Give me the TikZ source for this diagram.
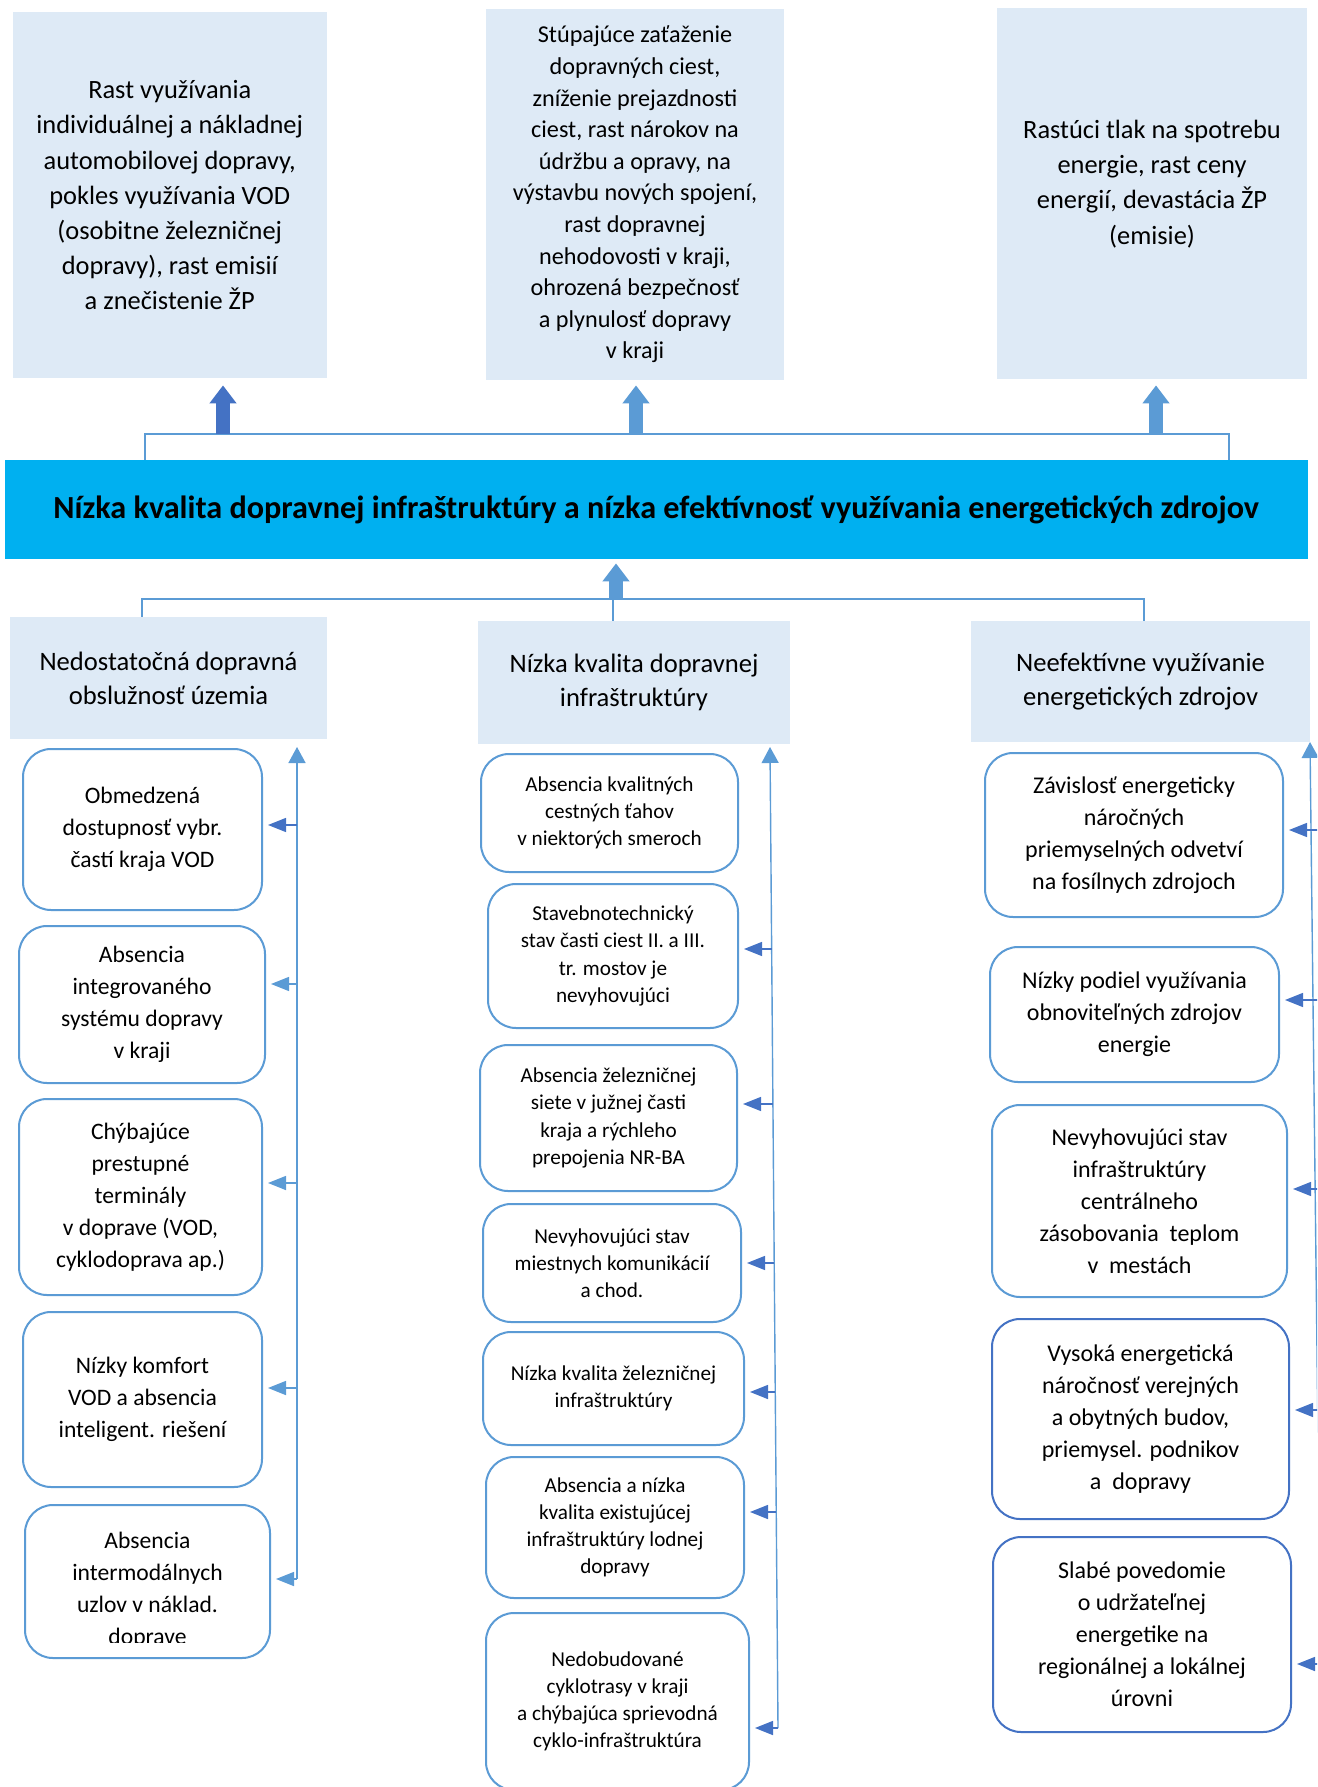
\documentclass[tikz,border=0pt]{standalone}
\usepackage{fontspec}
\setmainfont{Carlito}
\usetikzlibrary{arrows.meta}
\definecolor{lfill}{HTML}{DEEAF6}
\definecolor{mainc}{HTML}{00B0F0}
\definecolor{lb}{HTML}{5B9BD5}
\definecolor{db}{HTML}{4472C4}
\newcommand\mybox[7]{\node[#1, minimum width={(#4-#2)*0.5pt}, minimum height={(#5-#3)*0.5pt}] (#6) at ({(#2+#4)/2},{(#3+#5)/2}) {#7};}
\tikzset{
  topbox/.style={fill=lfill, inner sep=0pt, align=center, font=\fontsize{13.2}{17.6}\selectfont},
  topboxb/.style={topbox, font=\fontsize{12.1}{15.8}\selectfont},
  catbox/.style={fill=lfill, inner sep=0pt, align=center, font=\fontsize{13.3}{17}\selectfont},
  mainbox/.style={fill=mainc, inner sep=0pt, align=center, font=\bfseries\fontsize{16.1}{19}\selectfont},
  rbase/.style={draw=lb, line width=1pt, rounded corners=14pt, fill=white, inner sep=0pt, align=center},
  lbox/.style={rbase, font=\fontsize{11.8}{16}\selectfont},
  mbox/.style={rbase, font=\fontsize{10.6}{13.6}\selectfont},
  rbox/.style={rbase, font=\fontsize{12}{16}\selectfont},
  rboxd/.style={rbox, draw=db},
  thinl/.style={draw=lb, line width=0.75pt},
  barrow/.style={line width=7pt, -{Triangle[width=13pt,length=9pt]}},
  vline/.style={draw=lb, line width=0.7pt, -{Triangle[width=8.5pt,length=8pt]}},
  stub/.style={line width=0.7pt, -{Triangle[width=7pt,length=9pt]}, shorten >=2.5pt},
}
\begin{document}
\begin{tikzpicture}[x=0.5pt,y=-0.5pt]
\useasboundingbox (0,0) rectangle (1317,1787);
\clip (0,0) rectangle (1317,1787);
\fill[white] (0,0) rectangle (1317,1787);
% top boxes
\mybox{topbox}{12.5}{12.5}{327}{378}{T1}{Rast využívania\\individuálnej a nákladnej\\automobilovej dopravy,\\pokles využívania VOD\\(osobitne železničnej\\dopravy), rast emisií\\a znečistenie ŽP}
\mybox{topboxb}{486}{9}{784}{380}{T2}{Stúpajúce zaťaženie\\dopravných ciest,\\zníženie prejazdnosti\\ciest, rast nárokov na\\údržbu a opravy, na\\výstavbu nových spojení,\\rast dopravnej\\nehodovosti v kraji,\\ohrozená bezpečnosť\\a plynulosť dopravy\\v kraji}
\mybox{topbox}{997}{8}{1307}{379}{T3}{}
\node[font=\fontsize{13.2}{17.6}\selectfont, align=center, inner sep=0pt] (T3t) at (1152,184) {Rastúci tlak na spotrebu\\energie, rast ceny\\energií, devastácia ŽP\\(emisie)};
% main
\mybox{mainbox}{4.5}{460}{1308}{559}{MAIN}{Nízka kvalita dopravnej infraštruktúry a nízka efektívnosť využívania energetických zdrojov}
% bracket above main
\coordinate (hl) at (145,434);
\coordinate (hr) at (1229,434);
\draw[thinl] (MAIN.north -| hl) -- (hl) -- (hr) -- (MAIN.north -| hr);
\coordinate (ta1) at (223,434);
\coordinate (ta2) at (636,434);
\coordinate (ta3) at (1156,434);
\draw[barrow,db,shorten >=3.5pt] (ta1) -- (ta1 |- T1.south);
\draw[barrow,lb,shorten >=2.5pt] (ta2) -- (ta2 |- T2.south);
\draw[barrow,lb,shorten >=3pt] (ta3) -- (ta3 |- T3.south);
% categories
\mybox{catbox}{10}{617}{327}{739}{C1}{Nedostatočná dopravná\\obslužnosť územia}
\mybox{catbox}{478}{621}{790}{744}{C2}{Nízka kvalita dopravnej\\infraštruktúry}
\mybox{catbox}{971}{621}{1310}{742}{C3}{Neefektívne využívanie\\energetických zdrojov}
\coordinate (bl) at (142,599);
\coordinate (bm) at (613,599);
\coordinate (br) at (1144,599);
\draw[thinl] (C1.north -| bl) -- (bl) -- (br) -- (C3.north -| br);
\draw[thinl] (bm) -- (C2.north -| bm);
\coordinate (ba) at (616,599);
\draw[barrow,lb,shorten >=2pt] (ba) -- (ba |- MAIN.south);
% left column
\mybox{lbox}{23}{749}{262}{910}{L1}{Obmedzená\\dostupnosť vybr.\\častí kraja VOD}
\mybox{lbox}{19}{926}{265}{1083}{L2}{Absencia\\integrovaného\\systému dopravy\\v kraji}
\mybox{lbox}{19}{1099}{262}{1295}{L3}{Chýbajúce\\prestupné\\terminály\\v doprave (VOD,\\cyklodoprava ap.)}
\mybox{lbox}{23}{1312}{262}{1487}{L4}{Nízky komfort\\VOD a absencia\\inteligent. riešení}
\mybox{lbox}{25}{1505}{270}{1658}{L5}{}
\begin{scope}
\clip (0,1505) rectangle (1317,1642);
\node[font=\fontsize{11.8}{16}\selectfont, align=center, inner sep=0pt] (L5t) at (147.5,1590) {Absencia\\intermodálnych\\uzlov v náklad.\\doprave};
\end{scope}
\coordinate (ltop) at (297,747);
\coordinate (lbot) at (297,1579);
\draw[vline] (lbot) -- (ltop);
\coordinate (l1) at (297,825);
\coordinate (l2) at (297,984);
\coordinate (l3) at (297,1183);
\coordinate (l4) at (297,1388);
\coordinate (l5) at (297,1579);
\draw[stub,db] (l1) -- (l1 -| L1.east);
\draw[stub,lb] (l2) -- (l2 -| L2.east);
\draw[stub,lb] (l3) -- (l3 -| L3.east);
\draw[stub,lb] (l4) -- (l4 -| L4.east);
\draw[stub,lb] (l5) -- (l5 -| L5.east);
% middle column
\mybox{mbox}{481}{754}{738}{872}{M1}{Absencia kvalitných\\cestných ťahov\\v niektorých smeroch}
\mybox{mbox}{488}{884}{738}{1028}{M2}{Stavebnotechnický\\stav časti ciest II. a III.\\tr. mostov je\\nevyhovujúci}
\mybox{mbox}{480}{1045}{737}{1191}{M3}{Absencia železničnej\\siete v južnej časti\\kraja a rýchleho\\prepojenia NR-BA}
\mybox{mbox}{483}{1204}{741}{1322}{M4}{Nevyhovujúci stav\\miestnych komunikácií\\a chod.}
\mybox{mbox}{483}{1332}{744}{1445}{M5}{Nízka kvalita železničnej\\infraštruktúry}
\mybox{mbox}{486}{1457}{744}{1598}{M6}{Absencia a nízka\\kvalita existujúcej\\infraštruktúry lodnej\\dopravy}
\mybox{mbox}{486}{1613}{749}{1790}{M7}{Nedobudované\\cyklotrasy v kraji\\a chýbajúca sprievodná\\cyklo-infraštruktúra}
\coordinate (mtop) at (770,747);
\coordinate (mbot) at (778,1728);
\draw[vline] (mbot) -- (mtop);
\coordinate (m2) at (771.6,949);
\coordinate (m3) at (772.9,1104);
\coordinate (m4) at (774.2,1263);
\coordinate (m5) at (775.3,1392);
\coordinate (m6) at (776.2,1512);
\coordinate (m7) at (778,1728);
\draw[stub,db] (m2) -- (m2 -| M2.east);
\draw[stub,db] (m3) -- (m3 -| M3.east);
\draw[stub,db] (m4) -- (m4 -| M4.east);
\draw[stub,db] (m5) -- (m5 -| M5.east);
\draw[stub,db] (m6) -- (m6 -| M6.east);
\draw[stub,db] (m7) -- (m7 -| M7.east);
% right column
\mybox{rbox}{985}{753}{1283}{917}{R1}{Závislosť energeticky\\náročných\\priemyselných odvetví\\na fosílnych zdrojoch}
\mybox{rbox}{990}{947}{1279}{1082}{R2}{Nízky podiel využívania\\obnoviteľných zdrojov\\energie}
\mybox{rbox}{992}{1105}{1287}{1297}{R3}{Nevyhovujúci stav\\infraštruktúry\\centrálneho\\zásobovania~ teplom\\v~ mestách}
\mybox{rboxd}{992}{1319}{1289}{1519}{R4}{Vysoká energetická\\náročnosť verejných\\a obytných budov,\\priemysel. podnikov\\a~ dopravy}
\mybox{rboxd}{993}{1537}{1291}{1732}{R5}{Slabé povedomie\\o udržateľnej\\energetike na\\regionálnej a lokálnej\\úrovni}
\coordinate (rtop) at (1310,742);
\coordinate (rbot) at (1322,1787);
\draw[vline] (rbot) -- (rtop);
\coordinate (r1) at (1320,830);
\coordinate (r2) at (1320,1000);
\coordinate (r3) at (1320,1189);
\coordinate (r4) at (1320,1410);
\coordinate (r5) at (1320,1664);
\draw[stub,db] (r1) -- (r1 -| R1.east);
\draw[stub,db] (r2) -- (r2 -| R2.east);
\draw[stub,db] (r3) -- (r3 -| R3.east);
\draw[stub,db] (r4) -- (r4 -| R4.east);
\draw[stub,db] (r5) -- (r5 -| R5.east);
\end{tikzpicture}
\end{document}
